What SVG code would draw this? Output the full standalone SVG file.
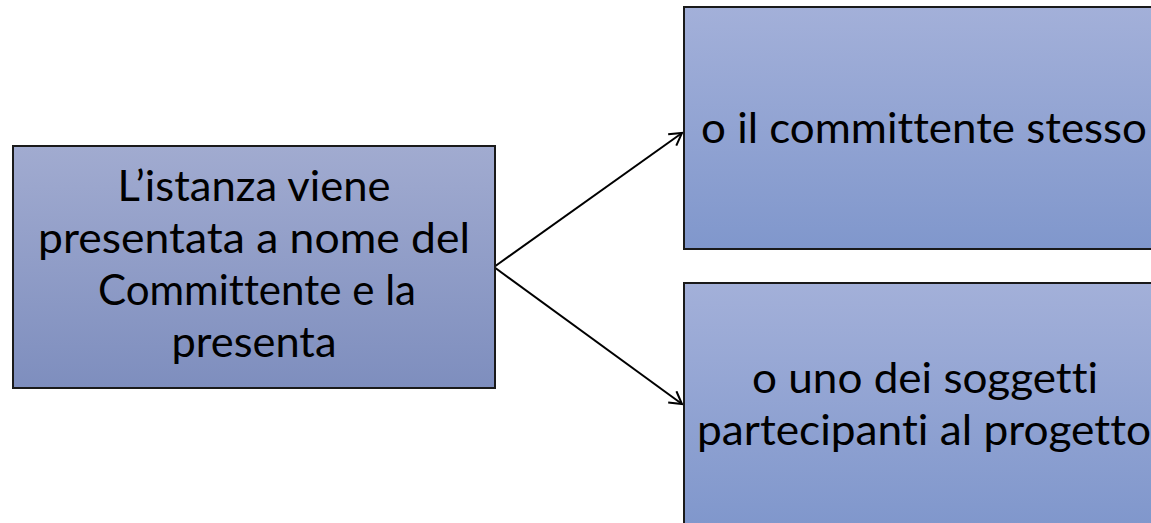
<svg xmlns="http://www.w3.org/2000/svg" width="1151" height="523" viewBox="0 0 1151 523">
<style>
.box{stroke:#1a1a1a;stroke-width:2}
.t{font-family:Lato,"Liberation Sans",sans-serif;font-size:43px;fill:#000;text-anchor:middle;font-variant-ligatures:none;font-feature-settings:"liga" 0,"clig" 0}
.c{stroke:#000;stroke-width:2;fill:none}
</style>
<defs>
<linearGradient id="gL" x1="0" y1="0" x2="0" y2="1">
<stop offset="0" stop-color="#a1abd0"/>
<stop offset="1" stop-color="#7e8ebe"/>
</linearGradient>
<linearGradient id="gR" x1="0" y1="0" x2="0" y2="1">
<stop offset="0" stop-color="#a3b0d9"/>
<stop offset="1" stop-color="#8097cc"/>
</linearGradient>
<marker id="arr" markerUnits="userSpaceOnUse" markerWidth="20" markerHeight="20" refX="14" refY="8" orient="auto">
<path d="M2,1 L14,8 L2,15" fill="none" stroke="#000" stroke-width="2"/>
</marker>
</defs>
<rect width="1151" height="523" fill="#fff"/>
<g id="connectors">
<line class="c" x1="494" y1="267" x2="682" y2="133" marker-end="url(#arr)"/>
<line class="c" x1="494" y1="267" x2="682" y2="404" marker-end="url(#arr)"/>
</g>
<g id="node-source">
<rect class="box" x="13" y="146" width="482" height="242" fill="url(#gL)"/>
<text class="t" x="254" y="201" textLength="273" lengthAdjust="spacingAndGlyphs">L’istanza viene</text>
<text class="t" x="254" y="253" textLength="432" lengthAdjust="spacingAndGlyphs">presentata a nome del</text>
<text class="t" x="257" y="305" textLength="318" lengthAdjust="spacingAndGlyphs">Committente e la</text>
<text class="t" x="254" y="357" textLength="165" lengthAdjust="spacingAndGlyphs">presenta</text>
</g>
<g id="node-top">
<rect class="box" x="684" y="7" width="482" height="242" fill="url(#gR)"/>
<text class="t" x="924" y="143" textLength="446" lengthAdjust="spacingAndGlyphs">o il committente stesso</text>
</g>
<g id="node-bottom">
<rect class="box" x="684" y="283" width="482" height="242" fill="url(#gR)"/>
<text class="t" x="925" y="393" textLength="346" lengthAdjust="spacingAndGlyphs">o uno dei soggetti</text>
<text class="t" x="924" y="445" textLength="454" lengthAdjust="spacingAndGlyphs">partecipanti al progetto</text>
</g>
</svg>
